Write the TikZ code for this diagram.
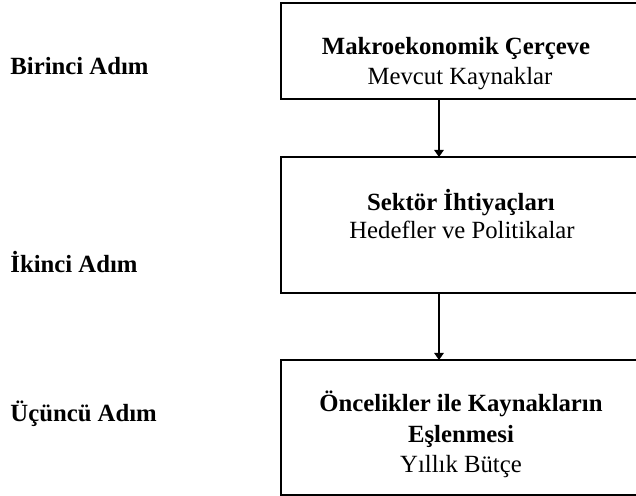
\documentclass[tikz,border=0pt]{standalone}
\usepackage{fontspec}
\setmainfont{Liberation Serif}
\usetikzlibrary{arrows.meta}

\begin{document}
\begin{tikzpicture}[x=0.485pt,y=-0.485pt,
  box/.style={draw,line width=0.65pt,minimum width=380*0.485pt,inner sep=0pt,outer sep=0pt},
  head/.style={anchor=base,inner sep=0pt,font=\fontsize{12}{15}\selectfont\bfseries},
  sub/.style={anchor=base,inner sep=0pt,font=\fontsize{12}{15}\selectfont},
  steplbl/.style={anchor=base west,inner sep=0pt,font=\fontsize{12}{15}\selectfont\bfseries},
  arr/.style={-{Triangle[length=3.4pt,width=4.6pt]},line width=0.6pt}]
  \useasboundingbox (0,0) rectangle (636,496);
  \clip (0,0) rectangle (636,496);

  % step labels
  \node[steplbl] (s1) at (10,75) {Birinci Adım};
  \node[steplbl] (s2) at (10,273) {İkinci Adım};
  \node[steplbl] (s3) at (10,422) {Üçüncü Adım};

  % boxes (cut off at the right edge)
  \node[box,minimum height=96*0.485pt] (b1) at (471,51) {};
  \node[box,minimum height=136*0.485pt] (b2) at (471,225) {};
  \node[box,minimum height=135*0.485pt] (b3) at (471,427.5) {};

  % box texts
  \node[head] (t1a) at (456,55) {Makroekonomik Çerçeve};
  \node[sub] (t1b) at (460,85) {Mevcut Kaynaklar};
  \node[head] (t2a) at (461,211) {Sektör İhtiyaçları};
  \node[sub] (t2b) at (462,239) {Hedefler ve Politikalar};
  \node[head] (t3a) at (461,412) {Öncelikler ile Kaynakların};
  \node[head] (t3b) at (461,443) {Eşlenmesi};
  \node[sub] (t3c) at (461,473) {Yıllık Bütçe};

  % arrows
  \coordinate (ax) at (439,0);
  \draw[arr] (b1.south -| ax) -- (b2.north -| ax);
  \draw[arr] (b2.south -| ax) -- (b3.north -| ax);
\end{tikzpicture}
\end{document}
